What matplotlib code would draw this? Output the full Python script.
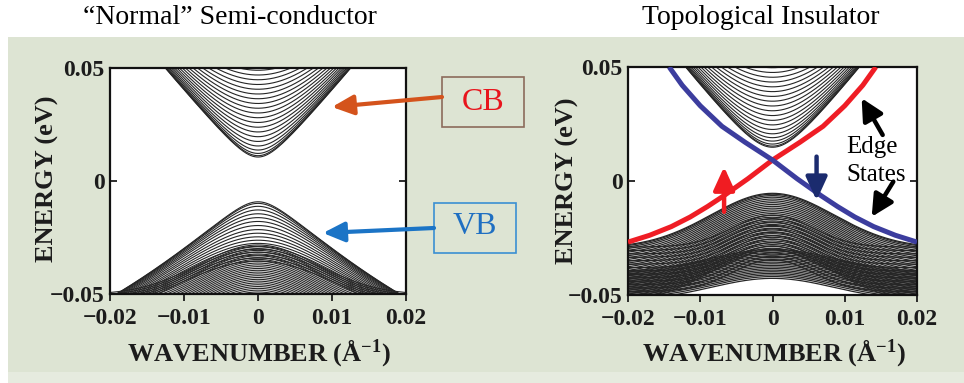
import numpy as np
import matplotlib
matplotlib.use("Agg")
import matplotlib.pyplot as plt
from matplotlib.patches import Rectangle, FancyArrowPatch

# ---------------- data ----------------
k_limits = [-0.02, 0.02]
e_limits = [-0.05, 0.05]
x_ticks = [-0.02, -0.01, 0.0, 0.01, 0.02]
x_tick_labels = ["\u22120.02", "\u22120.01", "0", "0.01", "0.02"]
y_ticks = [-0.05, 0.0, 0.05]
y_tick_labels = ["\u22120.05", "0", "0.05"]

titles = ["\u201cNormal\u201d Semi-conductor", "Topological Insulator"]

# Normal semiconductor: subband edges at k = 0 (eV) and dispersion parameters
ni_cb_edge = [0.0106, 0.0112, 0.0122, 0.0137, 0.0155, 0.0175, 0.0196, 0.0217,
              0.0238, 0.0259, 0.0280, 0.0301, 0.0322, 0.0343, 0.0364, 0.0385,
              0.0406, 0.0427, 0.0448, 0.0469, 0.0490]
ni_cb_vel = 3.9
ni_vb_light_edge = [-0.0092, -0.0099, -0.0112, -0.0128, -0.0145, -0.0162,
                    -0.0179, -0.0197, -0.0215, -0.0231, -0.0247, -0.0262,
                    -0.0276, -0.0289, -0.0302, -0.0315, -0.0328, -0.0341, -0.0354]
ni_vb_light_vel = 3.15
ni_vb_light_bend = 30.0
ni_vb_heavy_edge = [-0.0283, -0.0291, -0.0299, -0.0307, -0.0315, -0.0323,
                    -0.0331, -0.0339, -0.0347, -0.0355, -0.0363, -0.0371,
                    -0.0379, -0.0387, -0.0395, -0.0403, -0.0411, -0.0419,
                    -0.0427, -0.0435, -0.0443, -0.0451, -0.0459, -0.0467,
                    -0.0475, -0.0483, -0.0491]
ni_vb_heavy_drop = 0.022
ni_vb_heavy_width = 0.008

# Topological insulator
ti_cb_edge = [0.0148, 0.0153, 0.0162, 0.0175, 0.0190, 0.0207, 0.0226, 0.0246,
              0.0266, 0.0287, 0.0308, 0.0329, 0.0350, 0.0371, 0.0392, 0.0413,
              0.0434, 0.0455, 0.0476, 0.0497]
ti_cb_vel = 3.97
ti_vb_outer_edge = [-0.0054, -0.0058, -0.0064, -0.0071, -0.0079, -0.0087,
                    -0.0095, -0.0103, -0.0111, -0.0119, -0.0127, -0.0135,
                    -0.0143, -0.0151, -0.0159, -0.0167, -0.0175, -0.0183,
                    -0.0191, -0.0199, -0.0207, -0.0215, -0.0223, -0.0231,
                    -0.0239, -0.0247, -0.0255, -0.0263, -0.0271, -0.0279,
                    -0.0287, -0.0295, -0.0303]
ti_vb_outer_drop = 0.024
ti_vb_outer_width = 0.0085
ti_vb_inner_edge = [-0.0150, -0.0165, -0.0180, -0.0195, -0.0210, -0.0225,
                    -0.0240, -0.0255, -0.0270, -0.0285, -0.0300, -0.0315,
                    -0.0330, -0.0345]
ti_vb_inner_drop = 0.014
ti_vb_inner_width = 0.0055
ti_vb_deep_edge = [-0.0300, -0.0307, -0.0314, -0.0321, -0.0328, -0.0335,
                   -0.0342, -0.0349, -0.0356, -0.0363, -0.0370, -0.0377,
                   -0.0384, -0.0391, -0.0398, -0.0405, -0.0412, -0.0419,
                   -0.0427]
ti_vb_deep_drop = 0.010
ti_vb_deep_width = 0.0085

# helical edge states
red_edge_k = [-0.0200, -0.0170, -0.0140, -0.0114, -0.0090, -0.0068, -0.0034,
              0.0000, 0.0038, 0.0070, 0.0100, 0.0125, 0.0143]
red_edge_E = [-0.0268, -0.0238, -0.0200, -0.0158, -0.0112, -0.0066, 0.0010,
              0.0092, 0.0170, 0.0240, 0.0330, 0.0420, 0.0500]
blue_edge_k = [0.0200, 0.0170, 0.0140, 0.0114, 0.0090, 0.0068, 0.0034,
               0.0000, -0.0038, -0.0070, -0.0100, -0.0125, -0.0143]
blue_edge_E = [-0.0268, -0.0238, -0.0200, -0.0158, -0.0112, -0.0066, 0.0010,
               0.0092, 0.0170, 0.0240, 0.0330, 0.0420, 0.0500]

# ---------------- style ----------------
W, H = 964, 383
plt.rcParams["font.family"] = ["Liberation Serif", "DejaVu Serif"]
plt.rcParams["mathtext.fontset"] = "custom"
plt.rcParams["mathtext.rm"] = "Liberation Serif:bold"
plt.rcParams["mathtext.default"] = "rm"

BG = "#dde4d3"
LINE = "#262626"


def fx(x):
    return x / W


def fy(y):
    return 1 - y / H


def dome(kk, e0, drop, width):
    return e0 - drop * (1 - np.exp(-kk ** 2 / (2 * width ** 2)))


fig = plt.figure(figsize=(W / 100, H / 100), dpi=100, facecolor="white")
fig.add_artist(Rectangle((fx(8), fy(372)), 1 - fx(8), (372 - 37) / H,
                         transform=fig.transFigure, facecolor=BG,
                         edgecolor="none", zorder=-10))
fig.add_artist(Rectangle((fx(8), 0), 1 - fx(8), (383 - 372) / H,
                         transform=fig.transFigure, facecolor="#e6ebdf",
                         edgecolor="none", zorder=-10))

ax1 = fig.add_axes([fx(110), fy(294), (406 - 110) / W, (294 - 68) / H])
ax2 = fig.add_axes([fx(628), fy(295), (917 - 628) / W, (295 - 67) / H])

k = np.linspace(k_limits[0], k_limits[1], 801)
lw_band = 0.8
lw_dense = 0.9

# ---- normal semiconductor bands ----
for e0 in ni_cb_edge:
    ax1.plot(k, np.sqrt(e0 ** 2 + (ni_cb_vel * k) ** 2), color=LINE, lw=lw_band)
for e0 in ni_vb_heavy_edge:
    ax1.plot(k, dome(k, e0, ni_vb_heavy_drop, ni_vb_heavy_width), color=LINE, lw=lw_band)
for e0 in ni_vb_light_edge:
    ax1.plot(k, -np.sqrt(e0 ** 2 + (ni_vb_light_vel * k) ** 2)
             + ni_vb_light_bend * k ** 2, color=LINE, lw=lw_band)

# ---- topological insulator bands ----
for e0 in ti_cb_edge:
    ax2.plot(k, np.sqrt(e0 ** 2 + (ti_cb_vel * k) ** 2), color=LINE, lw=lw_band)
for e0 in ti_vb_outer_edge:
    ax2.plot(k, dome(k, e0, ti_vb_outer_drop, ti_vb_outer_width), color=LINE, lw=lw_dense)
for e0 in ti_vb_inner_edge:
    ax2.plot(k, dome(k, e0, ti_vb_inner_drop, ti_vb_inner_width), color=LINE, lw=lw_dense)
for e0 in ti_vb_deep_edge:
    ax2.plot(k, dome(k, e0, ti_vb_deep_drop, ti_vb_deep_width), color=LINE, lw=lw_dense)

ax2.plot(red_edge_k, red_edge_E, color="#ef1d25", lw=3.6, solid_capstyle="butt", zorder=5)
ax2.plot(blue_edge_k, blue_edge_E, color="#3c3d9e", lw=3.6, solid_capstyle="butt", zorder=5)

# spin arrows
ax2.annotate("", xy=(-0.0067, 0.0062), xytext=(-0.0067, -0.0135),
             arrowprops=dict(arrowstyle="-|>,head_length=0.7,head_width=0.32",
                             color="#f01c22", lw=3.2, mutation_scale=20,
                             shrinkA=0, shrinkB=0), zorder=6)
ax2.annotate("", xy=(0.0061, -0.0085), xytext=(0.0061, 0.0107),
             arrowprops=dict(arrowstyle="-|>,head_length=0.7,head_width=0.32",
                             color="#1b2b6e", lw=3.2, mutation_scale=20,
                             shrinkA=0, shrinkB=0), zorder=6)
# edge-state pointers
ax2.annotate("", xy=(0.01234, 0.0363), xytext=(0.01525, 0.0202),
             arrowprops=dict(arrowstyle="-|>,head_length=0.65,head_width=0.33",
                             color="black", lw=3.2, mutation_scale=20,
                             shrinkA=0, shrinkB=0), zorder=6)
ax2.annotate("", xy=(0.01373, -0.0157), xytext=(0.01672, -0.0003),
             arrowprops=dict(arrowstyle="-|>,head_length=0.65,head_width=0.33",
                             color="black", lw=3.2, mutation_scale=20,
                             shrinkA=0, shrinkB=0), zorder=6)
ax2.text(0.01373, 0.0150, "Edge", ha="center", va="center", fontsize=18, zorder=7)
ax2.text(0.01433, 0.0028, "States", ha="center", va="center", fontsize=18, zorder=7)

for ax in (ax1, ax2):
    ax.set_facecolor("white")
    ax.set_xlim(k_limits)
    ax.set_ylim(e_limits)
    ax.set_xticks(x_ticks)
    ax.set_xticklabels(x_tick_labels)
    ax.set_yticks(y_ticks)
    ax.set_yticklabels(y_tick_labels)
    ax.tick_params(axis="x", direction="out", length=5, width=1.3, pad=5,
                   labelsize=17, colors="#1c1c1c")
    ax.tick_params(axis="y", direction="in", length=5, width=1.3, pad=4,
                   labelsize=17, colors="#1c1c1c", right=True)
    for lab in ax.get_xticklabels() + ax.get_yticklabels():
        lab.set_fontweight("bold")
    for s in ax.spines.values():
        s.set_linewidth(1.6)
        s.set_color("#111111")
    ax.set_xlabel("WAVENUMBER (\u00c5$^{-1}$)", fontsize=19, fontweight="bold",
                  color="#1c1c1c", va="center")
    ax.set_ylabel("ENERGY (eV)", fontsize=19, fontweight="bold",
                  color="#1c1c1c", va="center")

ax1.xaxis.set_label_coords(0.502, -0.257)
ax1.yaxis.set_label_coords(-0.21, 0.511)
ax2.xaxis.set_label_coords(0.505, -0.254)
ax2.yaxis.set_label_coords(-0.21, 0.50)

# titles
fig.text(fx(230), fy(17.5), titles[0], ha="center", va="center", fontsize=20)
fig.text(fx(761), fy(17.5), titles[1], ha="center", va="center", fontsize=20)

# CB / VB labels with boxes and arrows
fig.add_artist(Rectangle((fx(442), fy(127)), (524 - 442) / W, 50 / H,
                         transform=fig.transFigure, facecolor="none",
                         edgecolor="#8c6b5c", lw=1.2))
fig.text(fx(483), fy(103), "CB", ha="center", va="center", fontsize=23,
         color="#e8141c")
fig.add_artist(Rectangle((fx(434), fy(252.5)), (516 - 434) / W, 50 / H,
                         transform=fig.transFigure, facecolor="none",
                         edgecolor="#3a8fd2", lw=1.2))
fig.text(fx(475), fy(227), "VB", ha="center", va="center", fontsize=23,
         color="#1f6fc2")
fig.add_artist(FancyArrowPatch(
    (fx(442), fy(97)), (fx(332), fy(107)), transform=fig.transFigure,
    arrowstyle="-|>,head_length=0.65,head_width=0.3", mutation_scale=20,
    color="#d4531c", lw=3.0, shrinkA=0, shrinkB=0))
fig.add_artist(FancyArrowPatch(
    (fx(434), fy(228)), (fx(323), fy(233)), transform=fig.transFigure,
    arrowstyle="-|>,head_length=0.65,head_width=0.3", mutation_scale=20,
    color="#1b74c6", lw=3.0, shrinkA=0, shrinkB=0))

fig.savefig("out.png", dpi=100, facecolor="white")
